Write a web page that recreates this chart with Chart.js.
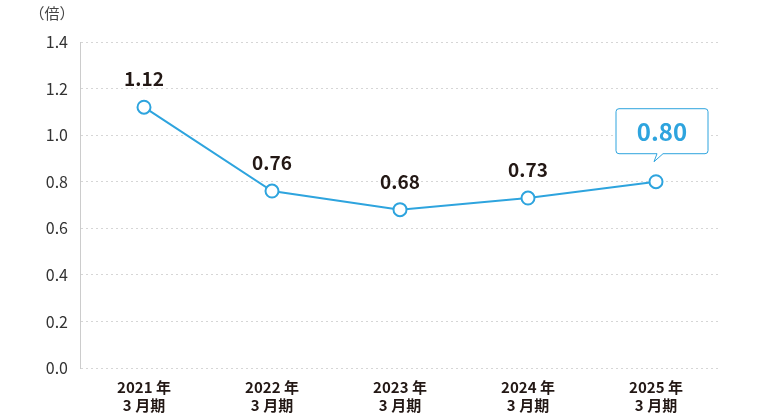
<!DOCTYPE html>
<html lang="ja">
<head>
<meta charset="UTF-8" />
<title>倍率推移</title>
<script src="https://cdn.jsdelivr.net/npm/chart.js"></script>
<style>
  body { margin: 0; background: #fff; }
  .wrap { position: relative; width: 770px; height: 420px; }
</style>
</head>
<body>
<div class="wrap"><canvas id="c"></canvas></div>
<script>
const years = ['2021 年', '2022 年', '2023 年', '2024 年', '2025 年'];
const periods = ['3 月期', '3 月期', '3 月期', '3 月期', '3 月期'];
const ratios = [1.12, 0.76, 0.68, 0.73, 0.80];
const yTicks = [0, 0.2, 0.4, 0.6, 0.8, 1.0, 1.2, 1.4];

const blue = '#2ea4de';
const font = '"Noto Sans CJK JP", "Noto Sans", sans-serif';

// value labels + callout for the latest year
const labelPlugin = {
  id: 'labels',
  afterDatasetsDraw(chart) {
    const ctx = chart.ctx;
    const pts = chart.getDatasetMeta(0).data;
    ctx.save();
    ctx.textAlign = 'center';
    ctx.textBaseline = 'middle';
    pts.forEach((p, i) => {
      const txt = ratios[i].toFixed(2);
      if (i === pts.length - 1) {
        const w = 92, h = 45, bx = p.x - 40, by = p.y - 73;
        ctx.strokeStyle = blue;
        ctx.lineWidth = 1;
        ctx.fillStyle = '#fff';
        ctx.beginPath();
        ctx.moveTo(bx + 3, by);
        ctx.lineTo(bx + w - 3, by);
        ctx.quadraticCurveTo(bx + w, by, bx + w, by + 3);
        ctx.lineTo(bx + w, by + h - 3);
        ctx.quadraticCurveTo(bx + w, by + h, bx + w - 3, by + h);
        ctx.lineTo(p.x + 7, by + h);
        ctx.lineTo(p.x - 2, by + h + 8);
        ctx.lineTo(p.x + 1, by + h);
        ctx.lineTo(bx + 3, by + h);
        ctx.quadraticCurveTo(bx, by + h, bx, by + h - 3);
        ctx.lineTo(bx, by + 3);
        ctx.quadraticCurveTo(bx, by, bx + 3, by);
        ctx.fill();
        ctx.stroke();
        ctx.fillStyle = blue;
        ctx.font = 'bold 24px ' + font;
        ctx.fillText(txt, bx + w / 2, by + h / 2 + 1);
      } else {
        ctx.fillStyle = '#231815';
        ctx.font = 'bold 19px ' + font;
        ctx.fillText(txt, p.x, p.y - 28);
      }
    });
    ctx.fillStyle = '#444';
    ctx.font = '15px ' + font;
    ctx.fillText('（倍）', 52, 13);
    ctx.restore();
  }
};

new Chart(document.getElementById('c'), {
  type: 'line',
  data: {
    labels: years.map((y, i) => [y, periods[i]]),
    datasets: [{
      data: ratios,
      borderColor: blue,
      borderWidth: 2,
      pointRadius: 6.5,
      pointBackgroundColor: '#fff',
      pointBorderColor: blue,
      pointBorderWidth: 2,
      tension: 0
    }]
  },
  options: {
    responsive: true,
    maintainAspectRatio: false,
    animation: false,
    layout: { padding: { top: 42, right: 50, bottom: 4, left: 0 } },
    plugins: { legend: { display: false }, tooltip: { enabled: false } },
    scales: {
      x: {
        offset: true,
        grid: { display: false },
        border: { display: false },
        ticks: { color: '#231815', font: { family: font, size: 15, weight: 'bold' }, padding: 2, maxRotation: 0 }
      },
      y: {
        min: 0, max: 1.4,
        afterFit(s) { s.width = 80; },
        afterBuildTicks(s) { s.ticks = yTicks.map(v => ({ value: v })); },
        grid: { color: '#d6d6d6', lineWidth: 1, drawTicks: false },
        border: { display: true, color: '#cccccc', dash: [2, 3] },
        ticks: { color: '#333', font: { family: font, size: 16 }, padding: 12, callback: v => v.toFixed(1) }
      }
    }
  },
  plugins: [labelPlugin]
});
</script>
</body>
</html>
